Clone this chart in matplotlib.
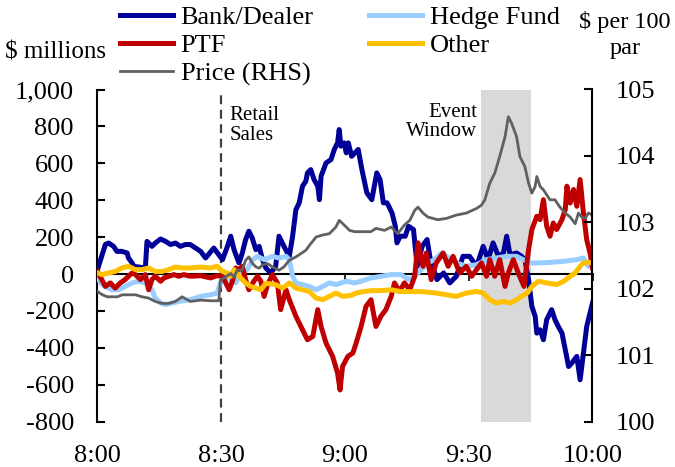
import matplotlib
matplotlib.use("Agg")
import matplotlib.pyplot as plt
from matplotlib.ticker import FuncFormatter

plt.rcParams['font.family'] = ['Liberation Serif', 'DejaVu Serif']
plt.rcParams['font.size'] = 19
plt.rcParams['axes.unicode_minus'] = False

# minutes after 8:00, net positions in $ millions
bank_t = [0, 1.9, 2.7, 3.9, 4.7, 5.9, 7.2, 7.5, 8.4, 8.8,
          11.6, 12.0, 13.2, 14.0, 15.3, 16.5, 17.7, 18.9, 20.1, 21.3,
          22.5, 25.0, 26.2, 28.2, 29.4, 30.3, 31.5, 32.3, 33.1, 34.3,
          35.1, 35.9, 36.7, 37.5, 38.4, 39.2, 40.0, 40.8, 42.0, 43.2,
          44.0, 45.2, 46.5, 47.3, 48.1, 48.9, 49.7, 50.5, 50.9, 51.7,
          52.5, 53.4, 53.8, 54.2, 55.4, 56.6, 57.4, 58.2, 58.6, 59.0,
          59.8, 60.3, 60.8, 61.6, 63.2, 64.1, 65.3, 66.5, 67.7, 68.5,
          69.3, 70.2, 71.4, 72.2, 72.6, 73.4, 74.6, 75.4, 76.6, 77.5,
          78.7, 79.9, 80.7, 82.3, 83.9, 85.4, 87.0, 88.6, 90.2, 91.9,
          93.5, 94.7, 95.9, 97.2, 98.4, 99.2, 100.0, 101.6, 102.8, 103.6,
          104.5, 105.3, 106.1, 106.5, 107.3, 108.1, 108.9, 110.1, 110.9, 111.7,
          112.6, 113.4, 114.2, 115.0, 116.2, 117.0, 117.8, 118.6, 119.4, 120]
bank_v = [24, 160, 168, 150, 123, 123, 114, 87, 60, 42,
          33, 177, 150, 168, 190, 177, 160, 168, 150, 160,
          160, 123, 87, 141, 105, 78, 150, 205, 132, 60,
          114, 186, 232, 196, 132, 150, 78, 33, 6, 42,
          205, 150, 96, 205, 349, 386, 476, 503, 548, 566,
          512, 476, 403, 530, 602, 620, 675, 711, 783, 693,
          711, 657, 711, 638, 675, 566, 440, 403, 548, 512,
          386, 386, 331, 259, 169, 205, 205, 259, 241, 42,
          150, 187, 78, -30, 6, -48, -12, 96, 96, 42,
          150, 78, 169, 96, 114, 205, 105, 114, 96, 78,
          -30, -175, -229, -320, -302, -356, -247, -193, -247, -284,
          -320, -410, -501, -482, -446, -573, -428, -284, -211, -157]

ptf_t = [0, 1.9, 3.1, 4.3, 5.5, 6.7, 7.5, 8.4, 9.2, 10.4,
         11.6, 12.4, 13.2, 14.0, 15.3, 16.1, 17.3, 18.5, 19.7, 20.9,
         22.5, 25.0, 27.4, 29.0, 30.3, 31.1, 31.9, 32.7, 33.5, 34.3,
         35.1, 35.9, 36.7, 37.9, 38.8, 39.6, 40.4, 41.2, 42.4, 43.6,
         44.4, 45.7, 46.5, 48.1, 49.7, 50.9, 52.2, 53.4, 54.2, 55.4,
         57.0, 58.2, 58.8, 59.4, 60.7, 61.9, 62.7, 63.9, 65.1, 66.3,
         67.5, 68.7, 69.9, 71.2, 72.0, 73.2, 74.4, 75.7, 76.9, 77.7,
         78.9, 79.7, 80.9, 82.1, 83.8, 85.0, 86.2, 87.8, 89.4, 90.7,
         91.9, 93.1, 94.3, 95.1, 96.3, 97.5, 98.8, 99.6, 100.8, 102.0,
         103.4, 104.5, 105.3, 106.5, 107.3, 108.1, 108.9, 109.7, 110.5, 111.3,
         112.6, 113.4, 113.8, 114.6, 115.4, 116.2, 117.0, 117.8, 118.6, 119.4,
         120]
ptf_v = [14, -67, -48, -76, -48, -30, -12, 6, -3, -30,
         -3, -85, -30, -12, -39, -21, -12, -3, -12, -3,
         -12, -9, -21, -9, -12, -48, -85, -39, 33, 24,
         42, -30, -85, -39, -12, -39, -121, -60, -3, -48,
         -193, -85, -139, -229, -302, -356, -338, -193, -284, -374,
         -446, -537, -628, -501, -446, -428, -374, -284, -175, -139,
         -284, -229, -193, -121, -48, -94, -48, -85, -12, 169,
         42, 114, -30, 60, 114, 42, 96, 6, 42, -12,
         24, 60, -12, 78, -12, 78, -67, 6, 78, 6,
         -67, 132, 241, 313, 295, 403, 259, 205, 277, 241,
         295, 349, 476, 385, 458, 367, 512, 331, 186, 114,
         33]

hedge_t = [0, 0.7, 1.9, 3.5, 5.1, 6.7, 8.4, 10.0, 11.6, 13.2,
           14.0, 15.3, 16.5, 18.1, 19.7, 22.5, 25.0, 27.4, 29.0, 29.8,
           30.6, 32.3, 33.5, 34.7, 36.3, 37.6, 38.8, 40.4, 42.4, 44.0,
           45.7, 46.5, 47.3, 48.1, 49.7, 51.3, 53.0, 54.6, 56.2, 57.8,
           60.3, 62.3, 63.9, 66.3, 68.8, 71.2, 73.6, 75.3, 76.9, 78.5,
           80.1, 81.7, 83.4, 84.6, 87.0, 89.4, 91.9, 94.3, 96.7, 99.1,
           101.6, 104.8, 106.5, 109.7, 113.0, 116.2, 117.8, 119.0, 120]
hedge_v = [-12, -48, -67, -85, -85, -67, -48, -39, -48, -85,
           -130, -157, -166, -157, -148, -139, -121, -112, -103, -48,
           -12, -30, -48, 6, 24, 78, 96, 78, 96, 87,
           96, 78, -12, -48, -57, -67, -85, -67, -48, -57,
           -39, -48, -39, -21, -12, -3, -3, -30, -12, 24,
           60, 78, 114, 96, 60, 42, 51, 78, 87, 96,
           96, 60, 60, 63, 69, 78, 87, 42, 42]

other_t = [0, 1.1, 2.7, 4.3, 5.9, 7.5, 9.2, 10.8, 12.4, 14.0,
           15.7, 17.3, 18.9, 20.5, 22.5, 25.0, 27.4, 29.0, 30.3, 31.5,
           32.3, 33.1, 34.7, 35.9, 37.1, 38.4, 39.6, 40.8, 43.2, 44.9,
           46.5, 48.1, 49.7, 51.3, 53.0, 54.6, 56.2, 57.8, 59.5, 61.5,
           63.1, 64.7, 66.3, 68.0, 69.6, 71.2, 73.6, 76.1, 78.5, 80.9,
           82.1, 84.6, 87.0, 89.4, 91.9, 93.5, 95.1, 96.7, 98.4, 100.0,
           101.6, 103.2, 104.2, 105.3, 106.9, 108.9, 111.3, 113.0, 114.6, 115.8,
           117.0, 117.8, 119.0, 120]
other_v = [6, -3, 6, 14, 33, 42, 24, 24, 33, 14,
           14, 24, 38, 33, 33, 38, 33, 42, 14, 6,
           -12, 24, -21, -48, -67, -76, -85, -50, -57, -76,
           -48, -76, -85, -94, -130, -139, -121, -103, -121, -115,
           -100, -95, -90, -90, -88, -85, -95, -95, -95, -100,
           -103, -112, -121, -103, -94, -103, -139, -157, -148, -157,
           -139, -115, -103, -67, -39, -48, -57, -39, -12, 6,
           42, 60, 63, 60]

# price, $ per 100 par (right axis)
price_t = [0, 1.2, 2.4, 4.8, 6.0, 9.2, 10.8, 12.4, 14.0, 15.7,
           17.3, 18.9, 20.5, 22.5, 25.0, 27.4, 29.4, 29.8, 31.1, 32.3,
           33.1, 33.9, 35.1, 35.9, 36.7, 37.6, 38.4, 39.2, 40.0, 41.2,
           42.4, 44.0, 45.2, 46.5, 48.1, 49.3, 50.5, 51.7, 53.0, 54.6,
           56.2, 57.8, 58.6, 59.8, 61.1, 62.3, 63.9, 66.3, 67.5, 69.6,
           71.2, 72.8, 74.4, 75.7, 76.9, 77.7, 78.9, 80.1, 82.5, 84.6,
           87.0, 89.4, 91.9, 93.1, 93.9, 95.1, 96.3, 97.5, 98.8, 99.6,
           100.4, 101.6, 102.4, 103.6, 104.5, 105.3, 106.1, 106.5, 107.3, 108.1,
           109.7, 110.9, 112.1, 113.4, 114.6, 115.8, 116.6, 117.4, 118.2, 119.0,
           120]
price_v = [101.96, 101.91, 101.88, 101.88, 101.91, 101.91, 101.88, 101.86, 101.81, 101.78,
           101.78, 101.81, 101.88, 101.81, 101.83, 101.82, 101.82, 102.13, 102.18, 102.23,
           102.18, 102.28, 102.28, 102.43, 102.48, 102.38, 102.33, 102.31, 102.36, 102.38,
           102.33, 102.28, 102.33, 102.43, 102.48, 102.53, 102.58, 102.68, 102.78, 102.81,
           102.83, 102.93, 103.03, 102.96, 102.88, 102.86, 102.86, 102.86, 102.91, 102.88,
           102.93, 102.83, 102.96, 103.03, 103.18, 103.23, 103.14, 103.08, 103.04, 103.06,
           103.11, 103.14, 103.21, 103.26, 103.34, 103.59, 103.74, 103.99, 104.29, 104.59,
           104.49, 104.29, 103.99, 103.84, 103.59, 103.44, 103.54, 103.69, 103.54, 103.49,
           103.34, 103.34, 103.23, 103.14, 103.08, 102.98, 103.14, 103.08, 103.06, 103.14,
           103.11]

xtick_pos = [0, 30, 60, 90, 120]
xtick_labels = ['8:00', '8:30', '9:00', '9:30', '10:00']
event_window = (93, 105)
retail_sales = 30

fig = plt.figure(figsize=(6.75, 4.67), dpi=100)
ax = fig.add_axes([97.5 / 675, 1 - 421.7 / 467, 495 / 675, 332.2 / 467])

ax.axvspan(event_window[0], event_window[1], color='#D9D9D9', lw=0, zorder=0)
ax.axvline(retail_sales, color='#404040', lw=1.6, ls=(0, (4, 2.5)), zorder=1)

l_bank, = ax.plot(bank_t, bank_v, color='#000099', lw=3.6, zorder=3, label='Bank/Dealer')
l_hedge, = ax.plot(hedge_t, hedge_v, color='#99CCFF', lw=3.6, zorder=4, label='Hedge Fund')
l_ptf, = ax.plot(ptf_t, ptf_v, color='#C00000', lw=3.6, zorder=5, label='PTF')
l_other, = ax.plot(other_t, other_v, color='#FFC000', lw=3.6, zorder=6, label='Other')

ax.set_xlim(0, 120)
ax.set_ylim(-800, 1000)
ax.set_yticks(range(-800, 1001, 200))
ax.yaxis.set_major_formatter(FuncFormatter(lambda v, p: f'{v:,.0f}'))
ax.tick_params(axis='y', direction='in', length=6, width=1.5, pad=17)

# x axis line crosses at zero, labels sit at the bottom
ax.spines['bottom'].set_position(('data', 0))
ax.spines['bottom'].set_linewidth(1.5)
ax.spines['bottom'].set_zorder(2)
ax.spines['top'].set_visible(False)
ax.spines['right'].set_visible(False)
ax.spines['left'].set_linewidth(1.5)
ax.set_xticks(xtick_pos)
ax.tick_params(axis='x', direction='out', length=5, width=1.2, labelbottom=False)

sec = ax.secondary_xaxis('bottom')
sec.spines['bottom'].set_visible(False)
sec.set_xticks(xtick_pos)
sec.set_xticklabels(xtick_labels)
sec.tick_params(length=0, pad=17)

ax2 = ax.twinx()
l_price, = ax2.plot(price_t, price_v, color='#606060', lw=2.0, label='Price (RHS)')
ax2.set_ylim(100, 105)
ax2.set_yticks(range(100, 106))
ax2.tick_params(axis='y', direction='in', length=6, width=1.5, pad=17)
for s in ['top', 'left', 'bottom']:
    ax2.spines[s].set_visible(False)
ax2.spines['right'].set_linewidth(1.5)

ax.text(32.0, 908, 'Retail\nSales', fontsize=15, ha='left', va='top', linespacing=1.05)
ax.text(92.1, 929, 'Event\nWindow', fontsize=15, ha='right', va='top', multialignment='right', linespacing=1.05)

fig.text(55 / 675, 1 - 53 / 467, r'\$ millions', ha='center', va='center', fontsize=18)
fig.text(625 / 675, 1 - 35 / 467, '\\$ per 100\npar', ha='center', va='center', linespacing=1.3, fontsize=17.5)

fig.legend(handles=[l_bank, l_ptf, l_price, l_hedge, l_other], ncol=2, frameon=False,
           loc='upper left', bbox_to_anchor=(120 / 675, 1 - 6 / 467),
           borderpad=0, borderaxespad=0, handlelength=2.0, handletextpad=0.3,
           columnspacing=2.1, labelspacing=0.17)

fig.savefig('out.png', dpi=100)
